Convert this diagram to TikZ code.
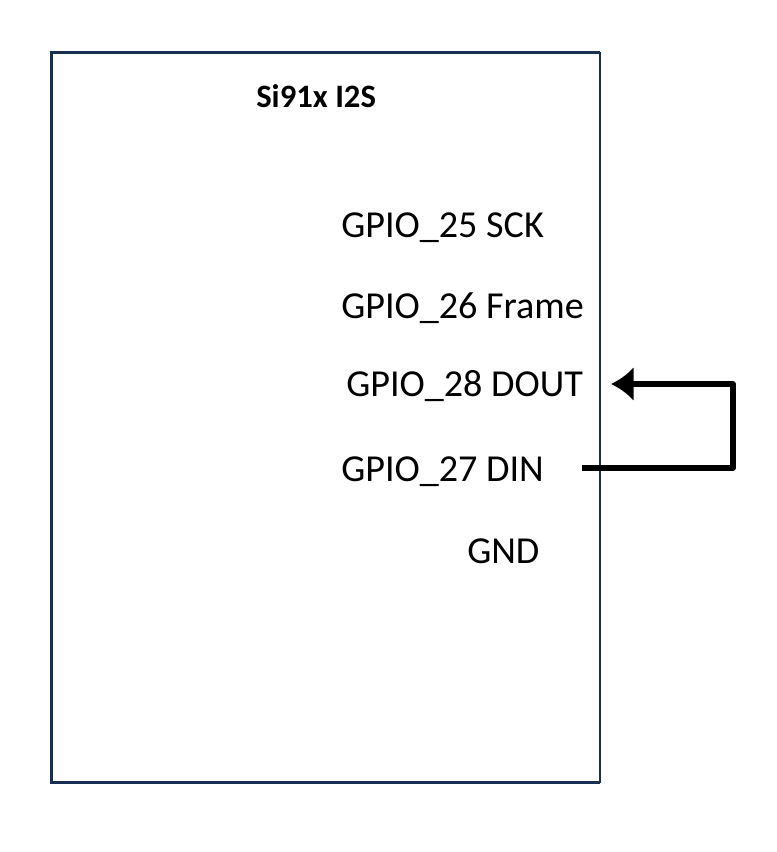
\documentclass[tikz,border=0pt]{standalone}
\usepackage{fontspec}
\setmainfont{Carlito}
\usetikzlibrary{arrows.meta,positioning}
\definecolor{chipblue}{RGB}{24,48,82}

\begin{document}
\begin{tikzpicture}[x=0.75pt,y=-0.75pt,>={Latex[length=17pt,width=26pt]},
  pin label/.style={anchor=base west,inner sep=0pt,font=\fontsize{28.6}{34}\selectfont},
  title label/.style={anchor=base west,inner sep=0pt,font=\fontsize{24.5}{29}\selectfont\bfseries},
  chip edge/.style={draw=chipblue,line width=2.1pt},
  wire/.style={draw=black,line width=4.2pt,line join=round}]
  \useasboundingbox (0,0) rectangle (776,852);
  % chip outline
  \coordinate (tr) at (600,52.4);
  \coordinate (bl) at (51.5,782.8);
  \draw[chip edge] (tr) -| (bl) -- (bl -| tr);
  \draw[draw=chipblue,line width=1.2pt] (tr) -- (bl -| tr);
  \node[title label] (title) at (256,108) {Si91x I2S};
  % pins
  \node[pin label] (sck)   at (341,238) {GPIO\_25 SCK};
  \node[pin label] (frame) at (341,318) {GPIO\_26 Frame};
  \node[pin label] (dout)  at (346,396) {GPIO\_28 DOUT};
  \node[pin label] (din)   at (341,481) {GPIO\_27 DIN};
  \node[pin label] (gnd)   at (467,563) {GND};
  % loopback
  \coordinate (dinpin)  at (582,468);
  \coordinate (doutpin) at (611,384);
  \coordinate (bend)    at (733,468);
  \draw[wire,->] (dinpin) -- (bend) |- (doutpin);
\end{tikzpicture}
\end{document}
